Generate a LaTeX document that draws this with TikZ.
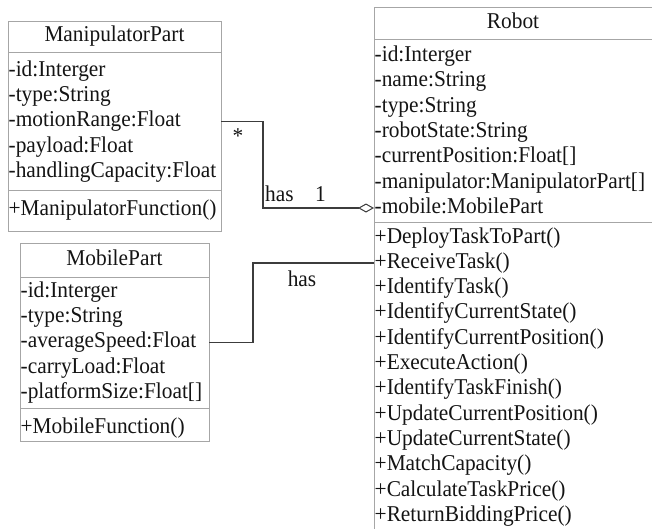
\documentclass[tikz,border=0pt]{standalone}
\usepackage{fontspec}
\setmainfont{Liberation Serif}[FakeStretch=0.945]
\usetikzlibrary{arrows.meta}
\definecolor{boxgray}{HTML}{A6A6A6}
\definecolor{linegray}{HTML}{3C3C3C}
\definecolor{inkblack}{HTML}{141414}
\begin{document}
\begin{tikzpicture}[x=1pt,y=-1pt,
  classbox/.style={draw=boxgray, line width=1pt, inner sep=0pt, outer sep=0pt, anchor=north west},
  sep/.style={draw=boxgray, line width=1pt},
  row/.style={anchor=west, inner sep=0pt, text height=16pt, text depth=5.4pt,
              font=\fontsize{22.6}{25}\selectfont, text=inkblack},
  title/.style={row, anchor=center},
  lbl/.style={inner sep=0pt, font=\fontsize{22.6}{25}\selectfont, text=inkblack},
  conn/.style={draw=linegray, line width=1.1pt}]

\useasboundingbox (0,0) rectangle (652,528);
\clip (0,0) rectangle (652,528);

% ---------------- ManipulatorPart ----------------
\node[classbox, minimum width=213pt, minimum height=210pt] (mp) at (8,21) {};
\draw[sep] (mp.west |- 0,52) -- (mp.east |- 0,52);
\draw[sep] (mp.west |- 0,190) -- (mp.east |- 0,190);
\node[title] (mpt) at (114.5,36.5) {ManipulatorPart};
\foreach \t [count=\i] in {-id:Interger, -type:String, -motionRange:Float,
    -payload:Float, -handlingCapacity:Float}
  \node[row] (mpa\i) at (8.5,{71+25.3*(\i-1)}) {\t};
\node[row] (mpm1) at (8.5,210) {+ManipulatorFunction()};

% ---------------- MobilePart ----------------
\node[classbox, minimum width=189pt, minimum height=198pt] (mb) at (20,243) {};
\draw[sep] (mb.west |- 0,277) -- (mb.east |- 0,277);
\draw[sep] (mb.west |- 0,408) -- (mb.east |- 0,408);
\node[title] (mbt) at (114.5,260) {MobilePart};
\foreach \t [count=\i] in {-id:Interger, -type:String, -averageSpeed:Float,
    -carryLoad:Float, -platformSize:Float[]}
  \node[row] (mba\i) at (20.5,{292+25.3*(\i-1)}) {\t};
\node[row] (mbm1) at (20.5,428) {+MobileFunction()};

% ---------------- Robot ----------------
\node[classbox, minimum width=279pt, minimum height=533pt] (rb) at (374,7.5) {};
\draw[sep] (rb.west |- 0,39.5) -- (rb.east |- 0,39.5);
\draw[sep] (rb.west |- 0,222) -- (rb.east |- 0,222);
\node[title] (rbt) at (513,23.5) {Robot};
\foreach \t [count=\i] in {-id:Interger, -name:String, -type:String,
    -robotState:String, -currentPosition:Float[], -manipulator:ManipulatorPart[],
    -mobile:MobilePart}
  \node[row] (rba\i) at (374.5,{56.2+25.3*(\i-1)}) {\t};
\foreach \t [count=\i] in {+DeployTaskToPart(), +ReceiveTask(), +IdentifyTask(),
    +IdentifyCurrentState(), +IdentifyCurrentPosition(), +ExecuteAction(),
    +IdentifyTaskFinish(), +UpdateCurrentPosition(), +UpdateCurrentState(),
    +MatchCapacity(), +CalculateTaskPrice(), +ReturnBiddingPrice()}
  \node[row] (rbm\i) at (374.5,{237.7+25.3*(\i-1)}) {\t};

% ---------------- Associations ----------------
\coordinate (j1) at (263,0);
\coordinate (j2) at (253,0);
\draw[conn, -{Diamond[open, length=16pt, width=9pt, line width=1pt]}]
  (mp.east |- mpa3) -| (j1 |- rba7) -- (rb.west |- rba7);
\draw[conn] (mb.east |- mba3) -| (j2 |- rbm2) -- (rb.west |- rbm2);

\node[lbl, anchor=base] (mult) at (238,143) {*};
\node[lbl, anchor=base west] (has1) at (265,201) {has};
\node[lbl, anchor=base west] (one) at (315,201) {1};
\node[lbl, anchor=base] (has2) at (302,286) {has};
\end{tikzpicture}
\end{document}
